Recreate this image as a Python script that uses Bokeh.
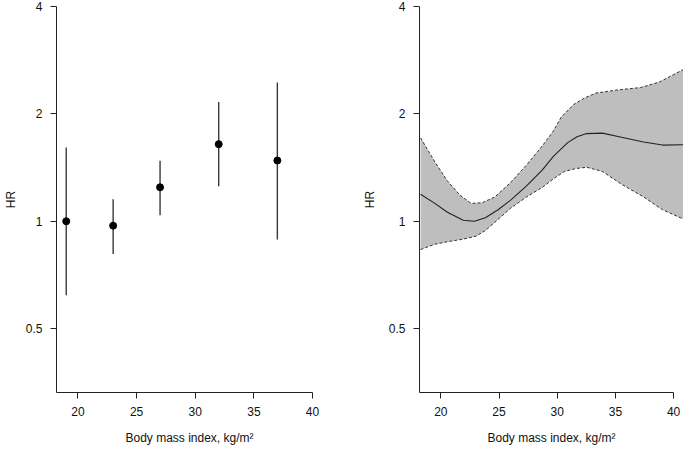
from bokeh.plotting import figure
from bokeh.layouts import row
from bokeh.models import FixedTicker, CustomJSTickFormatter, Range1d
from bokeh.embed import file_html
from bokeh.resources import INLINE

# Left panel: BMI groups with HR and 95% CI
bmi_groups = [19, 23, 27, 32, 37]
hr_points = [1.0, 0.972, 1.245, 1.645, 1.48]
hr_lower = [0.62, 0.81, 1.04, 1.253, 0.889]
hr_upper = [1.61, 1.153, 1.477, 2.16, 2.45]

# Right panel: spline curve with confidence band
curve_x = [18.26, 19.49, 20.57, 21.93, 22.88, 23.83, 24.92, 26.0, 27.37, 28.73, 29.67,
           30.9, 31.7, 32.53, 33.89, 35.52, 37.42, 39.05, 40.9]
curve_hr = [1.19, 1.122, 1.06, 1.006, 1.0, 1.023, 1.077, 1.146, 1.257, 1.394, 1.52,
            1.661, 1.725, 1.761, 1.766, 1.72, 1.668, 1.635, 1.638]
upper_x = [18.26, 19.49, 20.57, 21.66, 22.61, 23.56, 24.65, 26.0, 27.37, 28.73, 29.67,
           30.35, 31.44, 32.4, 33.34, 35.24, 37.15, 38.78, 40.9]
upper_hr = [1.713, 1.467, 1.297, 1.182, 1.122, 1.127, 1.17, 1.284, 1.438, 1.628, 1.79,
            1.96, 2.128, 2.22, 2.288, 2.335, 2.37, 2.456, 2.67]
lower_x = [18.26, 19.49, 20.57, 21.93, 23.02, 23.83, 24.92, 26.0, 27.37, 28.73, 29.67,
           30.63, 31.6, 32.53, 33.89, 35.52, 37.42, 39.05, 40.9]
lower_hr = [0.833, 0.862, 0.876, 0.891, 0.908, 0.942, 1.012, 1.088, 1.17, 1.245, 1.315,
            1.379, 1.405, 1.417, 1.379, 1.27, 1.17, 1.077, 1.012]

x_ticks = [20, 25, 30, 35, 40]
y_ticks = [0.5, 1, 2, 4]

X_START, X_END = 18.17, 40.85
Y_START, Y_END = 0.331, 4.0
FONT = "Liberation Sans"


def make_fig(width, border_left, border_right):
    p = figure(width=width, height=447, y_axis_type="log",
               x_range=Range1d(X_START, X_END), y_range=Range1d(Y_START, Y_END),
               output_backend="svg", toolbar_location=None,
               min_border_left=border_left, min_border_right=border_right,
               min_border_top=6, min_border_bottom=50)
    p.outline_line_color = None
    p.xgrid.grid_line_color = None
    p.ygrid.grid_line_color = None
    p.background_fill_color = "white"
    p.border_fill_color = "white"

    p.xaxis.ticker = FixedTicker(ticks=x_ticks)
    p.yaxis.ticker = FixedTicker(ticks=y_ticks)
    p.yaxis.formatter = CustomJSTickFormatter(code="return tick.toString();")
    p.xaxis.bounds = (X_START, 40)
    p.yaxis.bounds = (Y_START, 4)

    for ax in (p.xaxis[0], p.yaxis[0]):
        ax.axis_line_color = "#222222"
        ax.axis_line_width = 1
        ax.major_tick_line_color = "#222222"
        ax.major_tick_out = 6
        ax.major_tick_in = 0
        ax.minor_tick_line_color = None
        ax.major_label_text_font = FONT
        ax.major_label_text_font_size = "12px"
        ax.major_label_text_color = "#111111"
        ax.axis_label_text_font = FONT
        ax.axis_label_text_font_size = "12px"
        ax.axis_label_text_font_style = "normal"
        ax.axis_label_text_color = "#111111"

    p.xaxis.axis_label = "Body mass index, kg/m²"
    p.xaxis.major_label_standoff = 8
    p.xaxis.axis_label_standoff = 12
    p.yaxis.axis_label = "HR"
    p.yaxis.major_label_standoff = 8
    p.yaxis.major_label_orientation = "horizontal"
    p.yaxis.axis_label_standoff = 5
    return p


p1 = make_fig(340, 45, 18)
p1.segment(x0=bmi_groups, y0=hr_lower, x1=bmi_groups, y1=hr_upper,
           line_color="#3a3a3a", line_width=1.4)
p1.scatter(x=bmi_groups, y=hr_points, size=7, fill_color="black", line_color="black")

p2 = make_fig(343, 79, 0)
p2.yaxis.axis_label_standoff = 9
p2.patch(x=upper_x + lower_x[::-1], y=upper_hr + lower_hr[::-1],
         fill_color="#bebebe", line_color=None)
p2.line(x=upper_x, y=upper_hr, line_color="#333333", line_width=1, line_dash="3 2")
p2.line(x=lower_x, y=lower_hr, line_color="#333333", line_width=1, line_dash="3 2")
p2.line(x=curve_x, y=curve_hr, line_color="#222222", line_width=1.1)

layout = row(p1, p2, spacing=0)
open("out.html", "w").write(file_html(layout, INLINE))
